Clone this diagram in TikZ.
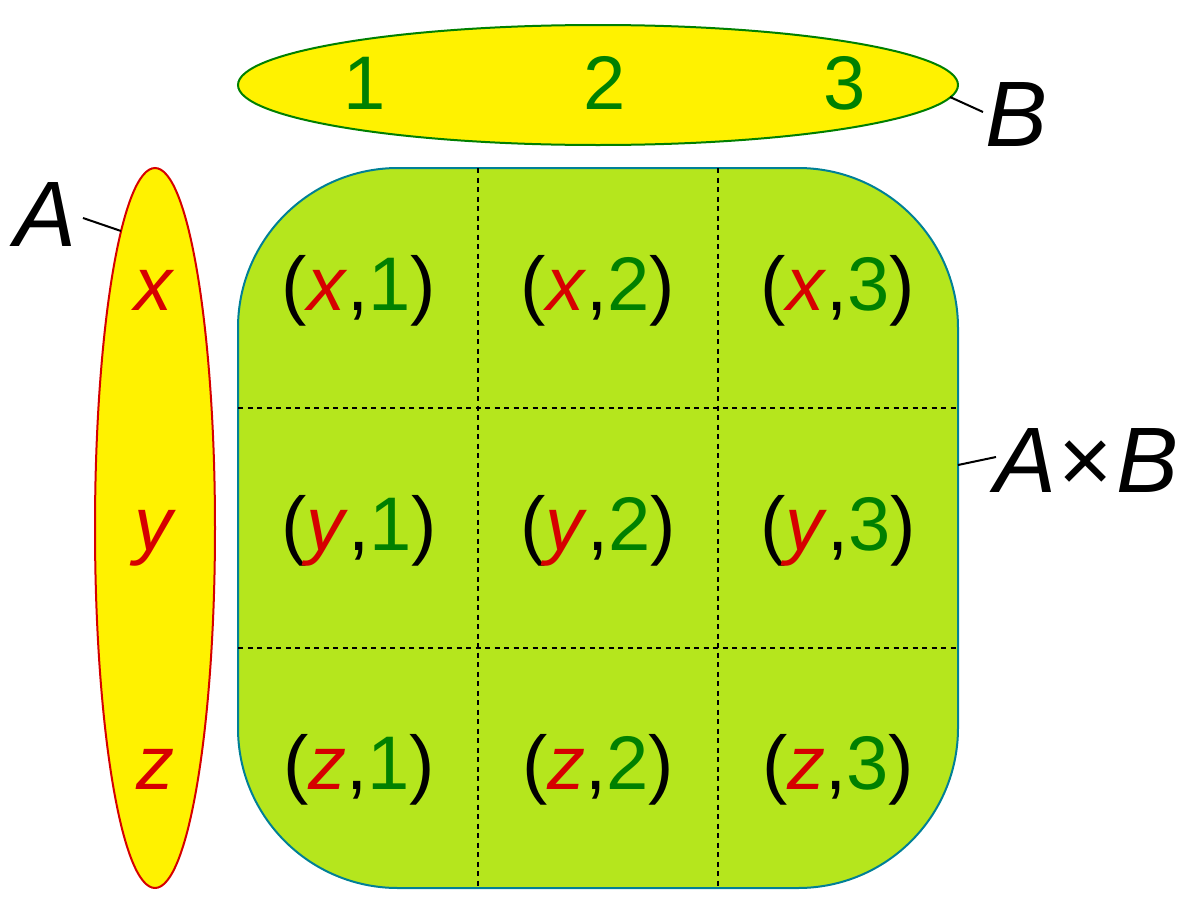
\documentclass[tikz,border=0pt]{standalone}
\usepackage{fontspec}
\setmainfont{Liberation Sans}
\usetikzlibrary{shapes.geometric}
\definecolor{yel}{RGB}{255,242,0}
\definecolor{lime}{RGB}{181,230,29}
\definecolor{redt}{RGB}{214,0,0}
\definecolor{greent}{RGB}{0,128,0}
\definecolor{tealb}{RGB}{0,128,150}
\newcommand{\rv}[1]{\textcolor{redt}{\textit{#1}}}
\newcommand{\gv}[1]{\textcolor{greent}{#1}}
\begin{document}
\begin{tikzpicture}[x=1pt,y=-1pt,
  txt/.style={inner sep=0pt,anchor=base,font=\fontsize{76}{90}\selectfont},
  lbl/.style={inner sep=0pt,anchor=base west,font=\fontsize{93}{110}\selectfont\itshape},
  grid/.style={line width=2pt,dash pattern=on 5pt off 4.5pt},
  conn/.style={line width=2pt}]
\useasboundingbox (0,0) rectangle (1200,913);
% product set
\node[draw=tealb,line width=2pt,fill=lime,rounded corners=160pt,minimum width=720pt,minimum height=720pt,inner sep=0pt] (P) at (598,528) {};
\coordinate (v1t) at (478,168); \coordinate (v1b) at (478,888);
\coordinate (v2t) at (718,168); \coordinate (v2b) at (718,888);
\coordinate (h1l) at (238,408); \coordinate (h1r) at (958,408);
\coordinate (h2l) at (238,648); \coordinate (h2r) at (958,648);
\draw[grid] (v1t) -- (v1b);
\draw[grid] (v2t) -- (v2b);
\draw[grid] (h1l) -- (h1r);
\draw[grid] (h2l) -- (h2r);
% set B
\node[ellipse,draw=greent,line width=2pt,fill=yel,minimum width=720pt,minimum height=120pt,inner sep=0pt] (EB) at (598,85) {};
\node[txt] (b1) at (365,109) {\gv{1}};
\node[txt] (b2) at (605,109) {\gv{2}};
\node[txt] (b3) at (845,109) {\gv{3}};
% set A
\node[ellipse,draw=redt,line width=2pt,fill=yel,minimum width=120pt,minimum height=720pt,inner sep=0pt] (EA) at (155,528) {};
\node[txt] (ax) at (155,310) {\rv{x}};
\node[txt] (ay) at (155,550) {\rv{y}};
\node[txt] (az) at (155,789) {\rv{z}};
% cells
\node[txt] (c11) at (359,310) {(\rv{x},\gv{1})};
\node[txt] (c12) at (598,310) {(\rv{x},\gv{2})};
\node[txt] (c13) at (838,310) {(\rv{x},\gv{3})};
\node[txt] (c21) at (359,550) {(\rv{y},\gv{1})};
\node[txt] (c22) at (598,550) {(\rv{y},\gv{2})};
\node[txt] (c23) at (838,550) {(\rv{y},\gv{3})};
\node[txt] (c31) at (359,789) {(\rv{z},\gv{1})};
\node[txt] (c32) at (598,789) {(\rv{z},\gv{2})};
\node[txt] (c33) at (838,789) {(\rv{z},\gv{3})};
% labels
\node[lbl] (LA) at (14,246) {A};
\node[lbl] (LB) at (985,146) {B};
\node[lbl] (LAB) at (994,492) {A\kern2pt\upshape×\kern4pt\itshape B};
\coordinate (ca1) at (83,218); \coordinate (ca2) at (121,231);
\coordinate (cb1) at (950,97); \coordinate (cb2) at (983,112);
\coordinate (cc1) at (958,465); \coordinate (cc2) at (996,457);
\draw[conn] (ca1) -- (ca2);
\draw[conn] (cb1) -- (cb2);
\draw[conn] (cc1) -- (cc2);
\end{tikzpicture}
\end{document}
